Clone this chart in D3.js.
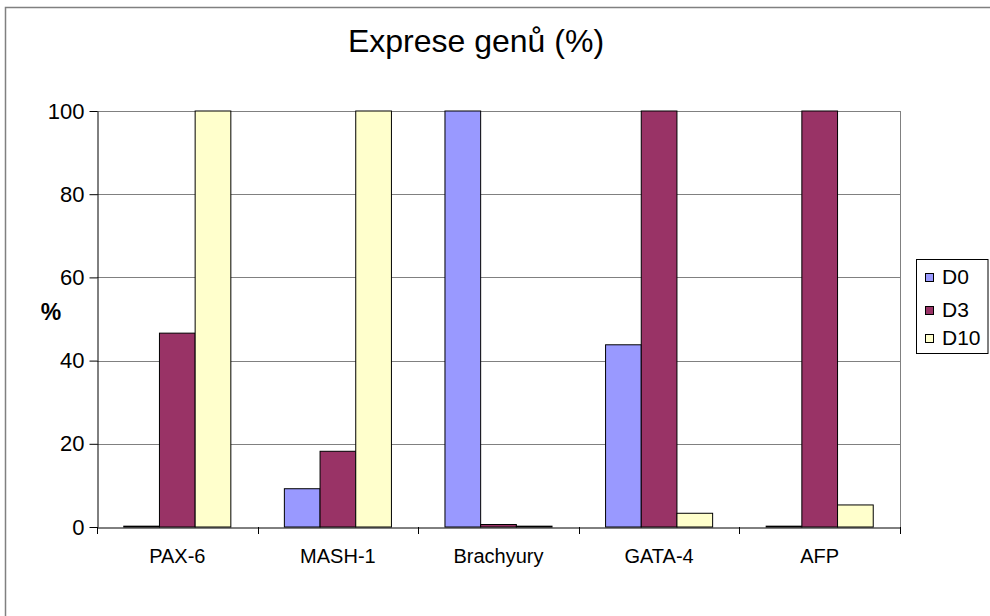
<!DOCTYPE html>
<html><head><meta charset="utf-8">
<script src="https://cdn.jsdelivr.net/npm/d3@7/dist/d3.min.js"></script>
<style>body{margin:0;background:#fff;}svg{display:block;font-family:"Liberation Sans",Arial,sans-serif;}</style>
</head><body>
<script>
const categories = ["PAX-6","MASH-1","Brachyury","GATA-4","AFP"];
const seriesNames = ["D0","D3","D10"];
const d0 = [0.2, 9.2, 100, 43.8, 0.2];
const d3v = [46.6, 18.2, 0.6, 100, 100];
const d10 = [100, 100, 0.2, 3.3, 5.3];
const yTicks = [0,20,40,60,80,100];
const colors = ["#9999FF","#993366","#FFFFCC"];
const title = "Exprese genů (%)";

const W=990,H=616;
const FF="Liberation Sans, Arial, sans-serif";
const svg=d3.select("body").append("svg").attr("width",W).attr("height",H);
svg.append("rect").attr("x",0).attr("y",0).attr("width",W).attr("height",H).attr("fill","#fff");
svg.append("rect").attr("x",5.5).attr("y",7.5).attr("width",W+10).attr("height",H+10)
  .attr("fill","none").attr("stroke","#808080").attr("stroke-width",1.5);

const L=97,R=900,T=111,B=527;
const x=d3.scaleBand().domain(categories).range([L,R]).padding(0);
const y=d3.scaleLinear().domain([0,100]).range([B,T]);
const bw=x.bandwidth()/4.5;

// gridlines
svg.append("g").selectAll("line").data(yTicks.filter(t=>t>0)).join("line")
  .attr("x1",L).attr("x2",R).attr("y1",d=>Math.round(y(d))+0.5).attr("y2",d=>Math.round(y(d))+0.5)
  .attr("stroke","#808080").attr("stroke-width",1);
// plot right border
svg.append("line").attr("x1",R+0.5).attr("x2",R+0.5).attr("y1",T).attr("y2",B).attr("stroke","#808080");

const series=[d0,d3v,d10];
series.forEach((vals,si)=>{
  svg.append("g").selectAll("rect").data(vals).join("rect")
    .attr("x",(d,i)=>x(categories[i])+0.75*bw+si*bw)
    .attr("y",d=>y(d))
    .attr("width",bw)
    .attr("height",d=>B-y(d))
    .attr("fill",colors[si]).attr("stroke","#000").attr("stroke-width",1);
});

// y axis
const ya=svg.append("g").attr("transform",`translate(${L+0.5},0)`)
  .call(d3.axisLeft(y).tickValues(yTicks).tickSize(8).tickPadding(5).tickSizeOuter(0));
ya.select(".domain").attr("stroke","#000");
ya.selectAll(".tick line").attr("stroke","#000");
ya.selectAll("text").attr("font-size","22px").attr("fill","#000").attr("font-family",FF);

// x axis
const xa=svg.append("g").attr("transform",`translate(0,${B+0.5})`)
  .call(d3.axisBottom(x).tickSize(0).tickPadding(21).tickSizeOuter(0));
xa.select(".domain").attr("stroke","#000");
xa.selectAll("text").attr("font-size","20px").attr("fill","#000").attr("font-family",FF);
const bounds=categories.map(c=>x(c)).concat([R]);
svg.append("g").selectAll("line").data(bounds).join("line")
  .attr("x1",d=>Math.round(d)+0.5).attr("x2",d=>Math.round(d)+0.5).attr("y1",B).attr("y2",B+7)
  .attr("stroke","#000");

// title
svg.append("text").attr("x",476).attr("y",52).attr("text-anchor","middle")
  .attr("font-size","32px").attr("fill","#000").text(title);
// y label
svg.append("text").attr("x",51).attr("y",320).attr("text-anchor","middle")
  .attr("font-size","23px").attr("font-weight","bold").attr("fill","#000").text("%");

// legend
const lg=svg.append("g");
lg.append("rect").attr("x",916.5).attr("y",259.5).attr("width",71.5).attr("height",94)
  .attr("fill","#fff").attr("stroke","#000");
const ly=[278,311,339];
seriesNames.forEach((n,i)=>{
  lg.append("rect").attr("x",925.5).attr("y",ly[i]-4.5).attr("width",8).attr("height",8)
    .attr("fill",colors[i]).attr("stroke","#000");
  lg.append("text").attr("x",942).attr("y",ly[i]+6).attr("font-size","21px").attr("fill","#000").text(n);
});
</script>
</body></html>
